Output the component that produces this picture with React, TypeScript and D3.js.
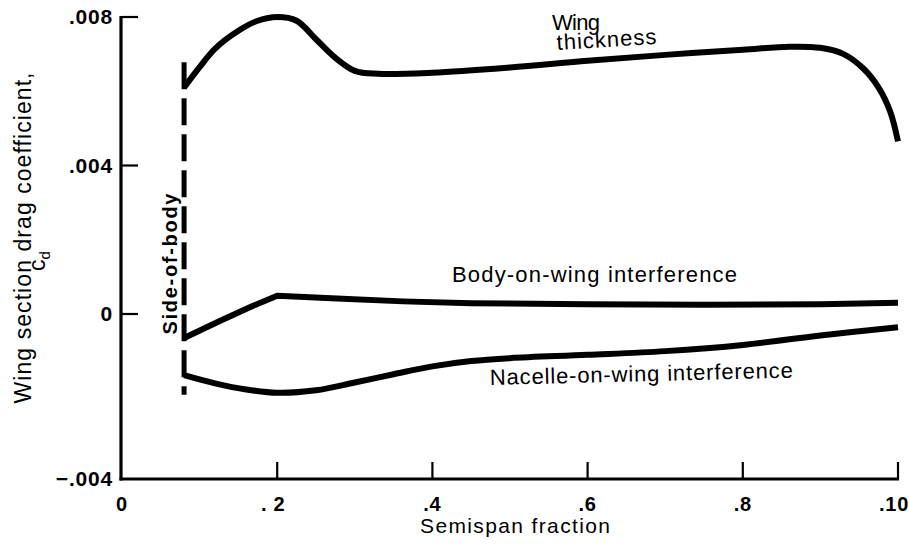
import React from 'react';
import * as d3 from 'd3';

// semispan fraction / section drag coefficient
const wingX = [0.08, 0.1, 0.12, 0.15, 0.175, 0.2, 0.225, 0.25, 0.275, 0.3, 0.33, 0.4, 0.5, 0.6, 0.7, 0.8, 0.86, 0.9, 0.93, 0.955, 0.975, 0.99, 1.0];
const wingY = [0.0061, 0.00665, 0.00715, 0.00763, 0.0079, 0.008, 0.0079, 0.0074, 0.0069, 0.00655, 0.00647, 0.0065, 0.00664, 0.00682, 0.00698, 0.00712, 0.0072, 0.00717, 0.007, 0.00662, 0.0061, 0.00545, 0.00465];

const bodyX = [0.08, 0.126, 0.169, 0.2, 0.277, 0.362, 0.45, 0.6, 0.75, 0.9, 1.0];
const bodyY = [-0.00058, -0.00017, 0.00022, 0.00049, 0.00042, 0.00034, 0.00029, 0.00026, 0.00025, 0.00026, 0.0003];

const nacX = [0.08, 0.12, 0.16, 0.2, 0.25, 0.3, 0.35, 0.4, 0.45, 0.5, 0.6, 0.7, 0.8, 0.9, 1.0];
const nacY = [-0.00148, -0.00168, -0.00183, -0.00191, -0.00185, -0.00166, -0.00146, -0.00127, -0.00114, -0.00107, -0.00099, -0.0009, -0.00075, -0.00052, -0.00032];

const sideX = 0.08;
const sideRange = [0.00678, -0.00196];

const xTicks = [0, 0.2, 0.4, 0.6, 0.8, 1.0];
const xTickLabels = ['0', '. 2', '.4', '.6', '.8', '.10'];
const yTicks = [-0.004, 0, 0.004, 0.008];
const yTickLabels = ['−.004', '0', '.004', '.008'];

const font = '"Liberation Sans", Arial, Helvetica, sans-serif';

export default function App() {
  const x = d3.scaleLinear().domain([0, 1]).range([122, 898]);
  // the printed axis is not evenly spaced below zero
  const y = d3.scaleLinear().domain([-0.004, 0, 0.008]).range([479, 314, 17]);

  const smooth = d3.line<[number, number]>()
    .x(d => x(d[0]))
    .y(d => y(d[1]))
    .curve(d3.curveCatmullRom.alpha(0.5));
  const straight = d3.line<[number, number]>()
    .x(d => x(d[0]))
    .y(d => y(d[1]))
    .curve(d3.curveLinear);

  const wing = wingX.map((v, i) => [v, wingY[i]] as [number, number]);
  const body = bodyX.map((v, i) => [v, bodyY[i]] as [number, number]);
  const nac = nacX.map((v, i) => [v, nacY[i]] as [number, number]);

  return (
    <svg width={909} height={547} style={{ position: 'absolute', left: 0, top: 0, background: '#fff' }} fontFamily={font}>
      <rect width={909} height={547} fill="#fff" />

      {/* axes */}
      <line x1={x(0) - 1} x2={x(0) - 1} y1={y(0.008) - 1} y2={y(-0.004) + 1.5} stroke="#000" strokeWidth={3.2} />
      <line x1={x(0) - 2.5} x2={x(1) + 1} y1={y(-0.004)} y2={y(-0.004)} stroke="#000" strokeWidth={3} />
      {yTicks.filter(t => t !== -0.004).map(t => (
        <line key={t} x1={x(0)} x2={x(0) + 16} y1={y(t)} y2={y(t)} stroke="#000" strokeWidth={2.2} />
      ))}
      {xTicks.filter(t => t !== 0).map(t => (
        <line key={t} x1={x(t)} x2={x(t)} y1={y(-0.004)} y2={y(-0.004) - 17} stroke="#000" strokeWidth={2.2} />
      ))}

      {yTicks.map((t, i) => (
        <text key={t} x={113} y={y(t) + 7} textAnchor="end" fontSize={21} fontWeight="bold" letterSpacing={0.8}>
          {yTickLabels[i]}
        </text>
      ))}
      {xTicks.map((t, i) => (
        <text key={t} x={x(t) - (t === 0.2 ? 4 : 0) - (t === 1 ? 4 : 0)} y={511} textAnchor="middle" fontSize={20} fontWeight="bold" letterSpacing={0.8}>
          {xTickLabels[i]}
        </text>
      ))}

      <text x={515} y={533} textAnchor="middle" fontSize={21} textLength={190} lengthAdjust="spacing">Semispan fraction</text>
      <text transform="translate(31,238) rotate(-90)" textAnchor="middle" fontSize={23} textLength={331} lengthAdjust="spacing">
        Wing section drag coefficient,
      </text>
      <text transform="translate(45,271) rotate(-90)" fontSize={23}>
        c<tspan fontSize={15} dy={5}>d</tspan>
      </text>

      {/* side of body */}
      <line x1={x(sideX)} x2={x(sideX)} y1={y(sideRange[0])} y2={y(sideRange[1])} stroke="#000" strokeWidth={5} strokeDasharray="27 9" />
      <text transform="translate(177,264) rotate(-90)" textAnchor="middle" fontSize={20} fontWeight="bold" textLength={141} lengthAdjust="spacing">
        Side-of-body
      </text>

      {/* curves */}
      <path d={smooth(wing) || ''} fill="none" stroke="#000" strokeWidth={6} strokeLinejoin="round" />
      <path d={straight(body) || ''} fill="none" stroke="#000" strokeWidth={6} strokeLinejoin="round" />
      <path d={smooth(nac) || ''} fill="none" stroke="#000" strokeWidth={6} strokeLinejoin="round" />

      {/* labels */}
      <text x={552} y={30} fontSize={22} textLength={48} lengthAdjust="spacing">Wing</text>
      <text transform="translate(557,50) rotate(-3.5)" fontSize={22} textLength={100} lengthAdjust="spacing">thickness</text>
      <text x={452} y={282} fontSize={22} textLength={285} lengthAdjust="spacing">Body-on-wing interference</text>
      <text transform="translate(490,385) rotate(-1.4)" fontSize={22} textLength={303} lengthAdjust="spacing">Nacelle-on-wing interference</text>
    </svg>
  );
}
